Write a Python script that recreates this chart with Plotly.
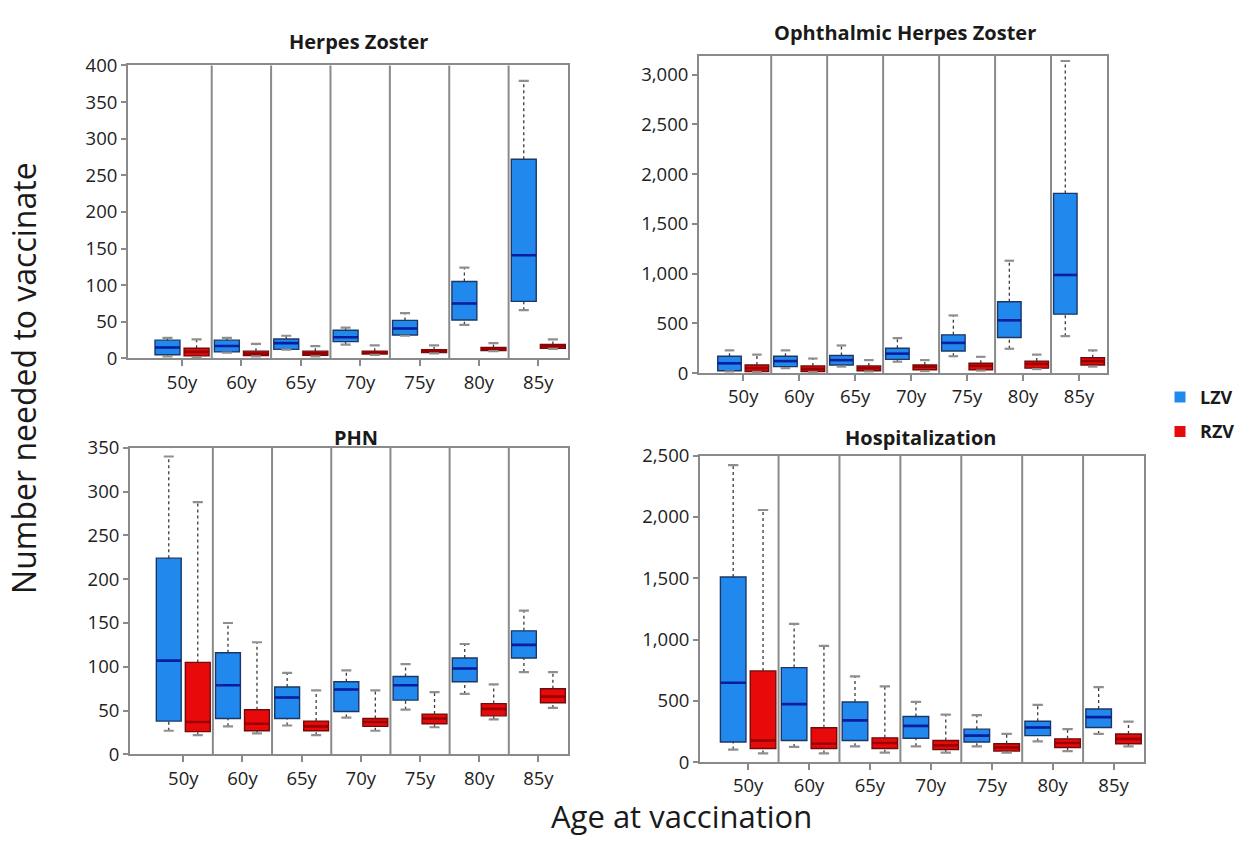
import plotly.graph_objects as go

AGES = ["50y", "60y", "65y", "70y", "75y", "80y", "85y"]
VACCINES = ["LZV", "RZV"]

# Each row is one age group: [lower whisker, Q1, median, Q3, upper whisker]
HZ_LZV = [[3, 5, 15, 25, 28], [8, 9, 17, 25, 28], [12, 12.5, 21, 26.5, 31],
          [19, 23, 29, 38.5, 42], [31, 32, 41, 52, 62], [46, 52.6, 75, 105, 124],
          [66, 78, 141, 272, 379]]
HZ_RZV = [[2, 3.5, 9, 14, 26], [3, 4, 6.6, 10, 20], [3, 4.4, 7, 10, 17],
          [5, 6, 8, 10, 18], [7, 8, 10, 12, 18], [10, 11, 13, 15, 21],
          [13, 14, 17, 19, 26]]

OHZ_LZV = [[16, 23, 98, 169, 228], [49, 65, 120, 169, 228], [65, 81, 130, 176, 277],
           [114, 137, 195, 250, 351], [169, 221, 303, 384, 579],
           [244, 358, 530, 716, 1129], [371, 592, 986, 1806, 3137]]
OHZ_RZV = [[10, 16, 49, 81, 185], [10, 16, 42, 72, 146], [16, 23, 49, 72, 130],
           [20, 33, 65, 81, 130], [25, 33, 72, 98, 163], [40, 49, 91, 120, 185],
           [65, 81, 120, 153, 228]]

PHN_LZV = [[27, 38, 107, 224, 340], [32, 41, 79, 116, 150], [33, 41, 65, 77, 93],
           [42, 49, 74, 83, 96], [51, 62, 79, 89, 103], [69, 83, 98, 110, 126],
           [94, 110, 125, 141, 164]]
PHN_RZV = [[22, 26, 37, 105, 288], [24, 27, 35, 51, 128], [22, 27, 32, 38, 73],
           [27, 32, 37, 41, 73], [31, 35, 41, 46, 71], [40, 44, 52, 58, 80],
           [53, 59, 66, 75, 94]]

HOSP_LZV = [[103, 164, 647, 1510, 2421], [124, 177, 473, 771, 1127],
            [129, 177, 341, 491, 700], [129, 195, 296, 372, 491],
            [129, 164, 216, 269, 383], [169, 216, 282, 333, 467],
            [230, 282, 367, 433, 612]]
HOSP_RZV = [[71, 111, 177, 744, 2056], [71, 111, 150, 280, 948],
            [77, 111, 156, 198, 618], [77, 103, 137, 177, 388],
            [77, 90, 119, 150, 230], [90, 119, 156, 190, 269],
            [129, 150, 190, 230, 330]]

PANEL_TITLES = ["Herpes Zoster", "Ophthalmic Herpes Zoster", "PHN", "Hospitalization"]
PANEL_DATA = [(HZ_LZV, HZ_RZV), (OHZ_LZV, OHZ_RZV), (PHN_LZV, PHN_RZV), (HOSP_LZV, HOSP_RZV)]
Y_MAX = [400, 3190, 350, 2500]
Y_STEP = [50, 500, 50, 500]

# ---- styling / layout ----
W, H = 1253, 844
FONT = "Open Sans, DejaVu Sans, sans-serif"
FILL = {"LZV": "#2189ee", "RZV": "#e80a0a"}
EDGE = {"LZV": "#1b3766", "RZV": "#6e0c0c"}
MEDIAN = {"LZV": "#0b1d9c", "RZV": "#9a0000"}
FRAME = "#8a8a8a"
OFFSET = {"LZV": -0.245, "RZV": 0.245}
BOX_W = 0.42
CAP_HALF = 0.085

# pixel boxes of each plotting area: (left, right, top, bottom)
AREAS = [(128, 568, 53, 355), (699, 1107, 43, 370), (130, 568, 447, 763), (700, 1144, 455, 771)]
X_LEFT = [-0.91, -0.79, -0.90, -0.79]
TITLE_POS = [(358, 28), (905, 19), (356, 436), (921, 436)]

fig = go.Figure()
shapes = []
annotations = []

for p, (title, series) in enumerate(zip(PANEL_TITLES, PANEL_DATA)):
    k = "" if p == 0 else str(p + 1)
    xa, ya = "x" + k, "y" + k
    for vac, rows in zip(VACCINES, series):
        lo = [r[0] for r in rows]
        q1 = [r[1] for r in rows]
        med = [r[2] for r in rows]
        q3 = [r[3] for r in rows]
        hi = [r[4] for r in rows]
        xs = [i + OFFSET[vac] for i in range(len(AGES))]

        # dotted whiskers
        wx, wy = [], []
        for x, a, b, c, d in zip(xs, lo, q1, q3, hi):
            wx += [x, x, None, x, x, None]
            wy += [c, d, None, a, b, None]
        fig.add_trace(go.Scatter(x=wx, y=wy, mode="lines", xaxis=xa, yaxis=ya,
                                 line=dict(color="#3a3a3a", width=1.3, dash="dot"),
                                 showlegend=False, hoverinfo="skip"))
        # boxes
        fig.add_trace(go.Box(x=xs, q1=q1, median=med, q3=q3, lowerfence=q1, upperfence=q3,
                             width=BOX_W, whiskerwidth=0, fillcolor=FILL[vac],
                             line=dict(color=EDGE[vac], width=1.4), boxpoints=False,
                             name=vac, xaxis=xa, yaxis=ya, showlegend=False))
        # medians
        mx, my = [], []
        for x, m in zip(xs, med):
            mx += [x - BOX_W / 2, x + BOX_W / 2, None]
            my += [m, m, None]
        fig.add_trace(go.Scatter(x=mx, y=my, mode="lines", xaxis=xa, yaxis=ya,
                                 line=dict(color=MEDIAN[vac], width=2.6),
                                 showlegend=False, hoverinfo="skip"))
        # whisker caps
        cx, cy = [], []
        for x, a, d in zip(xs, lo, hi):
            cx += [x - CAP_HALF, x + CAP_HALF, None, x - CAP_HALF, x + CAP_HALF, None]
            cy += [d, d, None, a, a, None]
        fig.add_trace(go.Scatter(x=cx, y=cy, mode="lines", xaxis=xa, yaxis=ya,
                                 line=dict(color="#8f8f8f", width=2.2),
                                 showlegend=False, hoverinfo="skip"))

    left, right, top, bottom = AREAS[p]
    n = len(AGES)
    fig.layout["xaxis" + k] = dict(
        domain=[left / W, right / W], anchor=ya, range=[X_LEFT[p], n - 0.5],
        tickmode="array", tickvals=list(range(n)), ticktext=AGES,
        ticks="outside", ticklen=6, tickwidth=1.5, tickcolor=FRAME,
        showline=True, mirror=True, linecolor=FRAME, linewidth=2,
        showgrid=False, zeroline=False, fixedrange=True,
        tickfont=dict(family=FONT, size=18.5, color="#222"))
    fig.layout["yaxis" + k] = dict(
        domain=[1 - bottom / H, 1 - top / H], anchor=xa, range=[0, Y_MAX[p]],
        tick0=0, dtick=Y_STEP[p], tickformat=",",
        ticks="outside", ticklen=5, tickwidth=1.5, tickcolor=FRAME,
        showline=True, mirror=True, linecolor=FRAME, linewidth=2,
        showgrid=False, zeroline=False, fixedrange=True,
        tickfont=dict(family=FONT, size=18.5, color="#222"))

    # separators between age groups
    for i in range(n - 1):
        shapes.append(dict(type="line", xref=xa, yref=ya + " domain",
                           x0=i + 0.5, x1=i + 0.5, y0=0, y1=1,
                           line=dict(color=FRAME, width=2)))

    tx, ty = TITLE_POS[p]
    annotations.append(dict(text=title, x=tx / W, y=1 - ty / H, xref="paper", yref="paper",
                            xanchor="center", yanchor="middle", showarrow=False,
                            font=dict(family=FONT, size=20, color="#1a1a1a", weight="bold")))

annotations.append(dict(text="Number needed to vaccinate", x=24 / W, y=1 - 375 / H,
                        xref="paper", yref="paper", textangle=-90, showarrow=False,
                        xanchor="center", yanchor="middle",
                        font=dict(family=FONT, size=32, color="#1a1a1a")))
annotations.append(dict(text="Age at vaccination", x=682 / W, y=1 - 826 / H,
                        xref="paper", yref="paper", showarrow=False,
                        xanchor="center", yanchor="middle",
                        font=dict(family=FONT, size=31, color="#1a1a1a")))

# legend entries
for vac in VACCINES:
    fig.add_trace(go.Scatter(x=[None], y=[None], mode="markers", name=vac, legendgroup=vac,
                             marker=dict(symbol="square", size=11, color=FILL[vac])))

fig.update_layout(
    width=W, height=H, autosize=False,
    margin=dict(l=0, r=0, t=0, b=0),
    paper_bgcolor="white", plot_bgcolor="white",
    shapes=shapes, annotations=annotations,
    showlegend=True,
    legend=dict(x=1160 / W, y=1 - 376 / H, xanchor="left", yanchor="top",
                tracegroupgap=8, bgcolor="rgba(0,0,0,0)",
                font=dict(family=FONT, size=18, color="#1a1a1a", weight="bold")),
)

fig.write_html("out.html")
